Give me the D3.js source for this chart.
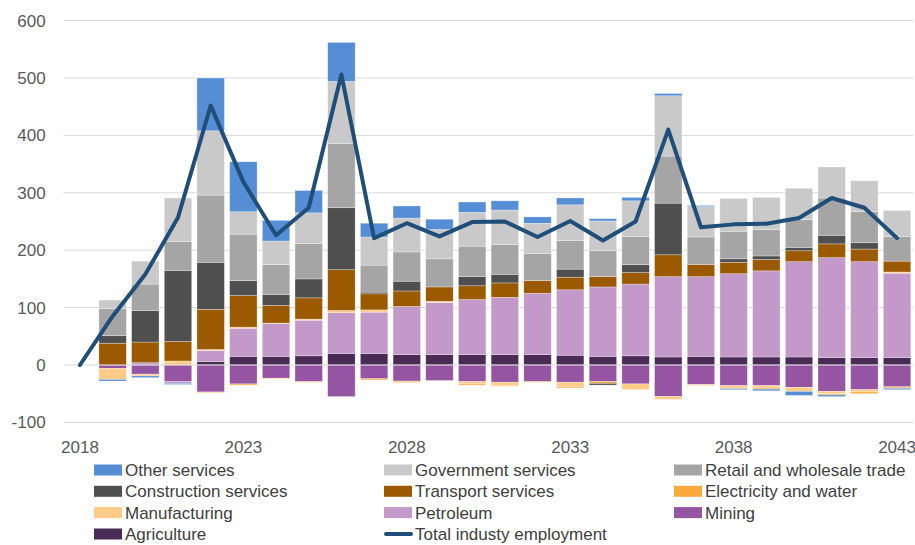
<!DOCTYPE html>
<html><head><meta charset="utf-8">
<script src="https://cdn.jsdelivr.net/npm/d3@7"></script>
<style>
body{margin:0;background:#fff}
svg text{font-family:"Liberation Sans",Arial,sans-serif;}
</style>
</head><body>
<svg id="c" width="915" height="545"></svg>
<script>
const years = ["2018","2019","2020","2021","2022","2023","2024","2025","2026","2027","2028","2029","2030",
  "2031","2032","2033","2034","2035","2036","2037","2038","2039","2040","2041","2042","2043"];
const agriculture  = [0, 0, 0, 0, 6, 15, 15, 16, 20, 20, 18, 18, 18, 18, 18, 17, 15, 16, 14, 15, 14, 14, 14, 13, 13, 13];
const mining       = [0, -6, -16, -29, -47, -33, -23, -29, -55, -24, -28, -27, -29, -30, -29, -30, -29, -33, -55, -34, -36, -36, -39, -46, -43, -38];
const petroleum    = [0, 0, 4, -3, 19, 49, 57, 62, 71, 72, 84, 91, 96, 100, 107, 114, 121, 125, 140, 139, 145, 150, 166, 174, 167, 147];
const manufacturing= [0, -19, -3, 7, 2, 2, 1, 2, 4, 4, -3, 2, -4, -6, 0, -8, 0, -10, -5, -2, -3, -4, -5, -4, -4, 2];
const electricity  = [0, 0, 0, 0, -1, -2, -1, -1, 0, -2, 0, 0, -2, -1, -1, -2, -3, 0, 0, 0, -2, -2, -2, -2, -3, -2];
const transport    = [0, 38, 36, 34, 70, 55, 31, 37, 71, 28, 27, 25, 24, 25, 22, 22, 18, 20, 38, 21, 20, 20, 19, 24, 22, 19];
const construction = [0, 13, 55, 124, 82, 26, 19, 33, 108, 3, 17, 0, 16, 15, 0, 14, -3, 14, 90, 0, 6, 6, 6, 15, 11, -1];
const retail       = [0, 47, 46, 50, 117, 81, 52, 62, 112, 47, 51, 49, 53, 52, 47, 50, 45, 49, 82, 48, 48, 46, 48, 65, 54, 43];
const government   = [0, 15, 40, 76, 112, 39, 41, 53, 108, 49, 59, 51, 59, 60, 53, 62, 52, 62, 105, 53, 57, 56, 55, 54, 54, 45];
const otherServices= [0, -3, -3, -2, 92, 87, 36, 39, 68, 24, 21, 18, 18, 16, 11, 12, 4, 6, 4, 2, -2, -3, -7, -3, 0, -2];
const totalEmployment = [0, 85, 158, 257, 452, 319, 226, 274, 506, 221, 247, 224, 249, 250, 223, 251, 217, 250, 410, 240, 245, 246, 256, 291, 274, 221];

const xTickLabels = ["2018","2023","2028","2033","2038","2043"];
const yTickValues = [-100, 0, 100, 200, 300, 400, 500, 600];

const seriesKeys = ["agriculture","mining","petroleum","manufacturing","electricity","transport","construction","retail","government","other"];
const seriesData = {agriculture, mining, petroleum, manufacturing, electricity, transport, construction, retail, government, other: otherServices};
const seriesNames = {
  other:"Other services", government:"Government services", retail:"Retail and wholesale trade",
  construction:"Construction services", transport:"Transport services", electricity:"Electricity and water",
  manufacturing:"Manufacturing", petroleum:"Petroleum", mining:"Mining", agriculture:"Agriculture"
};
const seriesColors = {
  other:"#558ed5", government:"#c9c9c9", retail:"#a5a5a5", construction:"#4f4f4f", transport:"#9b5a00",
  electricity:"#f9a93a", manufacturing:"#ffcb87", petroleum:"#c299c8", mining:"#9555a3", agriculture:"#4a2b55"
};
const lineColor = "#1f4e79";
const legendOrder = ["other","government","retail","construction","transport","electricity","manufacturing","petroleum","mining","agriculture","total"];

const rows = years.map((yr, i) => {
  const r = {year: yr};
  seriesKeys.forEach(k => r[k] = seriesData[k][i]);
  return r;
});

const svg = d3.select("#c");
const x = d3.scaleBand().domain(years).range([63.6, 913.4]).paddingInner(0.16).paddingOuter(0.08);
const y = d3.scaleLinear().domain([-100, 600]).range([422.4, 20.6]);
const bw = x.bandwidth();

// gridlines
svg.append("g").selectAll("line").data(yTickValues.filter(v => v !== 0)).join("line")
  .attr("x1", 63.6).attr("x2", 913.4)
  .attr("y1", d => y(d)).attr("y2", d => y(d))
  .attr("stroke", "#d9d9d9").attr("stroke-width", 1);

const stacked = d3.stack().keys(seriesKeys).offset(d3.stackOffsetDiverging)(rows);

svg.append("g").selectAll("g").data(stacked).join("g")
  .attr("fill", s => seriesColors[s.key])
  .selectAll("rect").data(s => s.filter(d => d[1] - d[0] !== 0)).join("rect")
  .attr("x", d => x(d.data.year))
  .attr("width", bw)
  .attr("y", d => y(Math.max(d[0], d[1])))
  .attr("height", d => Math.abs(y(d[0]) - y(d[1])))
  .attr("stroke", "#ffffff").attr("stroke-opacity", 0.5).attr("stroke-width", 0.6);

// zero line
svg.append("line").attr("x1", 63.6).attr("x2", 913.4).attr("y1", y(0)).attr("y2", y(0))
  .attr("stroke", "#d9d9d9").attr("stroke-width", 1);

// total line
const line = d3.line().x((d, i) => x(years[i]) + bw / 2).y(d => y(d));
svg.append("path").datum(totalEmployment).attr("d", line)
  .attr("fill", "none").attr("stroke", lineColor).attr("stroke-width", 4)
  .attr("stroke-linejoin", "round").attr("stroke-linecap", "round");

// axes
const yAxis = svg.append("g").attr("transform", "translate(63.6,0)")
  .call(d3.axisLeft(y).tickValues(yTickValues).tickSize(0).tickPadding(18).tickFormat(d => String(d)));
yAxis.select(".domain").remove();
yAxis.selectAll("text").attr("font-size", 17).attr("fill", "#595959")
  .style("font-family", '"Liberation Sans",Arial,sans-serif');

const xAxis = svg.append("g").attr("transform", "translate(0," + 437 + ")")
  .call(d3.axisBottom(x).tickValues(xTickLabels).tickSize(0).tickPadding(4));
xAxis.select(".domain").remove();
xAxis.selectAll("text").attr("font-size", 17).attr("fill", "#595959")
  .style("font-family", '"Liberation Sans",Arial,sans-serif');

// legend
const colX = [94, 384, 674];
const rowY = [470, 491.3, 512.6, 534];
const lg = svg.append("g").selectAll("g").data(legendOrder).join("g")
  .attr("transform", (d, i) => `translate(${colX[i % 3]},${rowY[Math.floor(i / 3)]})`);
lg.filter(d => d !== "total").append("rect")
  .attr("x", 0).attr("y", -5.5).attr("width", 28).attr("height", 11)
  .attr("fill", d => seriesColors[d]);
lg.filter(d => d === "total").append("line")
  .attr("x1", 2).attr("x2", 27).attr("y1", 0).attr("y2", 0)
  .attr("stroke", lineColor).attr("stroke-width", 4).attr("stroke-linecap", "round");
lg.append("text").attr("x", 31).attr("y", 0).attr("dy", "0.35em")
  .attr("font-size", 17).attr("fill", "#404040")
  .text(d => d === "total" ? "Total industy employment" : seriesNames[d]);
</script>
</body></html>
